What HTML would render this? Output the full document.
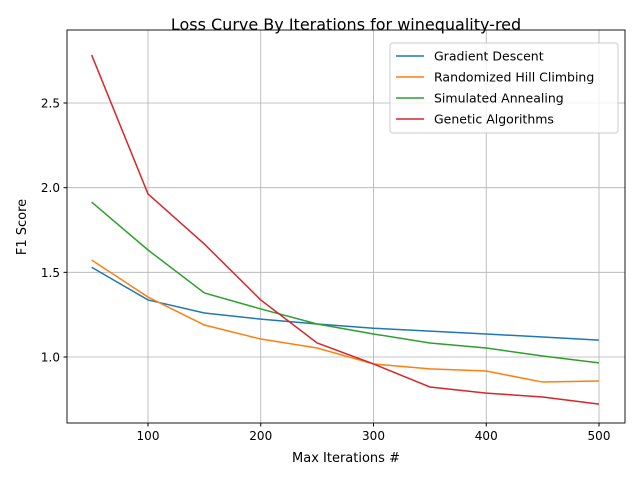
<!DOCTYPE html>
<html><head><meta charset="utf-8"><style>
body{margin:0;background:#fff;}
svg text{font-family:"DejaVu Sans","Liberation Sans",sans-serif;fill:#000;}
</style></head><body>
<svg id="chart" width="640" height="480">
<rect width="640" height="480" fill="#fff"/>
<text x="346" y="30" font-size="16" text-anchor="middle">Loss Curve By Iterations for winequality-red</text>
<g id="grid"></g><g id="series"></g>
<rect x="67" y="30" width="558" height="393" fill="none" stroke="#000" stroke-width="0.9"/>
<g id="ticks"></g>
<text x="346" y="462" font-size="13" text-anchor="middle">Max Iterations #</text>
<text transform="translate(26,227) rotate(-90)" font-size="13" text-anchor="middle">F1 Score</text>
<g id="legend"></g>
</svg>
<script>
const iterations=[50,100,150,200,250,300,350,400,450,500];
const gradientDescent=[1.53,1.337,1.26,1.224,1.195,1.17,1.153,1.136,1.118,1.10];
const hillClimbing=[1.573,1.354,1.189,1.106,1.053,0.959,0.93,0.917,0.852,0.858];
const simAnnealing=[1.915,1.632,1.378,1.284,1.195,1.136,1.083,1.053,1.006,0.965];
const geneticAlg=[2.784,1.963,1.667,1.337,1.083,0.959,0.823,0.787,0.764,0.722];
const seriesNames=["Gradient Descent","Randomized Hill Climbing","Simulated Annealing","Genetic Algorithms"];
const xTicks=[100,200,300,400,500];
const yTicks=[1.0,1.5,2.0,2.5];
const colors=["#1f77b4","#ff7f0e","#2ca02c","#d62728"];
const NS="http://www.w3.org/2000/svg";
function xs(v){return 148+(v-100)*451/400;}
function ys(v){return 357-(v-1)*169.33;}
function mk(t,a,p){const e=document.createElementNS(NS,t);for(const k in a)e.setAttribute(k,a[k]);p.appendChild(e);return e;}
const grid=document.getElementById('grid'),ticks=document.getElementById('ticks');
xTicks.forEach(v=>{const x=xs(v);
const g=mk('line',{x1:x,x2:x,y1:30,y2:423,stroke:'#b0b0b0','stroke-width':0.8},grid);


mk('line',{x1:x,x2:x,y1:423,y2:426.5,stroke:'#000'},ticks);
const t=mk('text',{x:x,y:440,'font-size':12,'text-anchor':'middle'},ticks);t.textContent=v;

});
yTicks.forEach(v=>{const y=ys(v);
const g=mk('line',{x1:67,x2:625,y1:y,y2:y,stroke:'#b0b0b0','stroke-width':0.8},grid);


mk('line',{x1:63.5,x2:67,y1:y,y2:y,stroke:'#000'},ticks);
const t=mk('text',{x:60,y:y+4.5,'font-size':12,'text-anchor':'end'},ticks);t.textContent=v.toFixed(1);

});
const all=[gradientDescent,hillClimbing,simAnnealing,geneticAlg];
const sg=document.getElementById('series');
all.forEach((d,i)=>{const pts=d.map((v,j)=>xs(iterations[j])+','+ys(v)).join(' ');
const p=mk('polyline',{points:pts,fill:'none',stroke:colors[i],'stroke-width':1.5},sg);

});
const lg=document.getElementById('legend');
mk('rect',{x:390,y:43,width:228,height:90,rx:3,fill:'#fff','fill-opacity':0.8,stroke:'#ccc'},lg);
seriesNames.forEach((n,i)=>{const y=56+i*21;
mk('line',{x1:396,x2:424,y1:y,y2:y,stroke:colors[i],'stroke-width':1.5},lg);
const t=mk('text',{x:434,y:y+4.5,'font-size':12.5},lg);t.textContent=n;

});
</script>
</body></html>
